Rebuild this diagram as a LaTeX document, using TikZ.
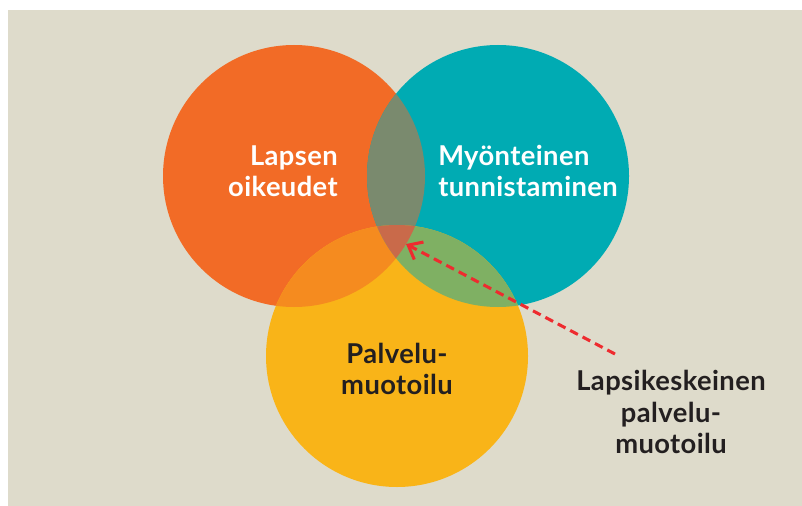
\documentclass[tikz,border=0pt]{standalone}
\usepackage{fontspec}
\setmainfont{Lato}[LetterSpace=1.5]
\usepackage{tikz}
\usetikzlibrary{arrows.meta,positioning}
\definecolor{vnbeige}{HTML}{DEDBCB}
\definecolor{vnorange}{HTML}{F26B26}
\definecolor{vnteal}{HTML}{00ABB3}
\definecolor{vnyellow}{HTML}{F9B418}
\definecolor{vnot}{HTML}{7A8A6E}
\definecolor{vnoy}{HTML}{F58B1F}
\definecolor{vnty}{HTML}{7FB063}
\definecolor{vnall}{HTML}{C96A4A}
\definecolor{vnred}{HTML}{EE2B2F}
\definecolor{vndark}{HTML}{231F20}
\tikzset{
  pointer/.style={-{Straight Barb[length=3.2mm,width=5.2mm]}, line width=2.3pt, dash pattern=on 6.5pt off 4pt, draw=vnred},
  whitelabel/.style={font=\bfseries\fontsize{20.5}{23.3}\selectfont, text=white, inner sep=0pt},
  darklabel/.style={font=\bfseries\fontsize{20.5}{23.3}\selectfont, text=vndark, inner sep=0pt, align=center}
}

\begin{document}
\begin{tikzpicture}[x=0.75pt,y=-0.75pt]
        \useasboundingbox (0,0) rectangle (802,506);
        \fill[vnbeige] (8,10) rectangle (802,506);
        % the three circles
        \def\corange{(294,176) circle (131)}
        \def\cteal{(498,176) circle (131)}
        \def\cyellow{(397,356) circle (131)}
        \fill[vnorange] \corange;
        \fill[vnteal] \cteal;
        \fill[vnyellow] \cyellow;
        \begin{scope}
            \clip \corange;
            \fill[vnot] \cteal;
            \fill[vnoy] \cyellow;
        \end{scope}
        \begin{scope}
            \clip \cteal;
            \fill[vnty] \cyellow;
            \clip \cyellow;
            \fill[vnall] \corange;
        \end{scope}

        \node[whitelabel, align=right, anchor=east] (oik) at (338,171) {Lapsen\\oikeudet};
        \node[whitelabel, align=left, anchor=west] (myo) at (438,171) {Myönteinen\\tunnistaminen};
        \node[darklabel] (pal) at (397,369) {Palvelu-\\muotoilu};
        \node[darklabel] (lks) at (671,412) {Lapsikeskeinen\\palvelu-\\muotoilu};

        \coordinate (tail) at (615,354);
        \coordinate (tip) at (406,244);
        \draw[pointer] (tail) -- (tip);
    \end{tikzpicture}
\end{document}
